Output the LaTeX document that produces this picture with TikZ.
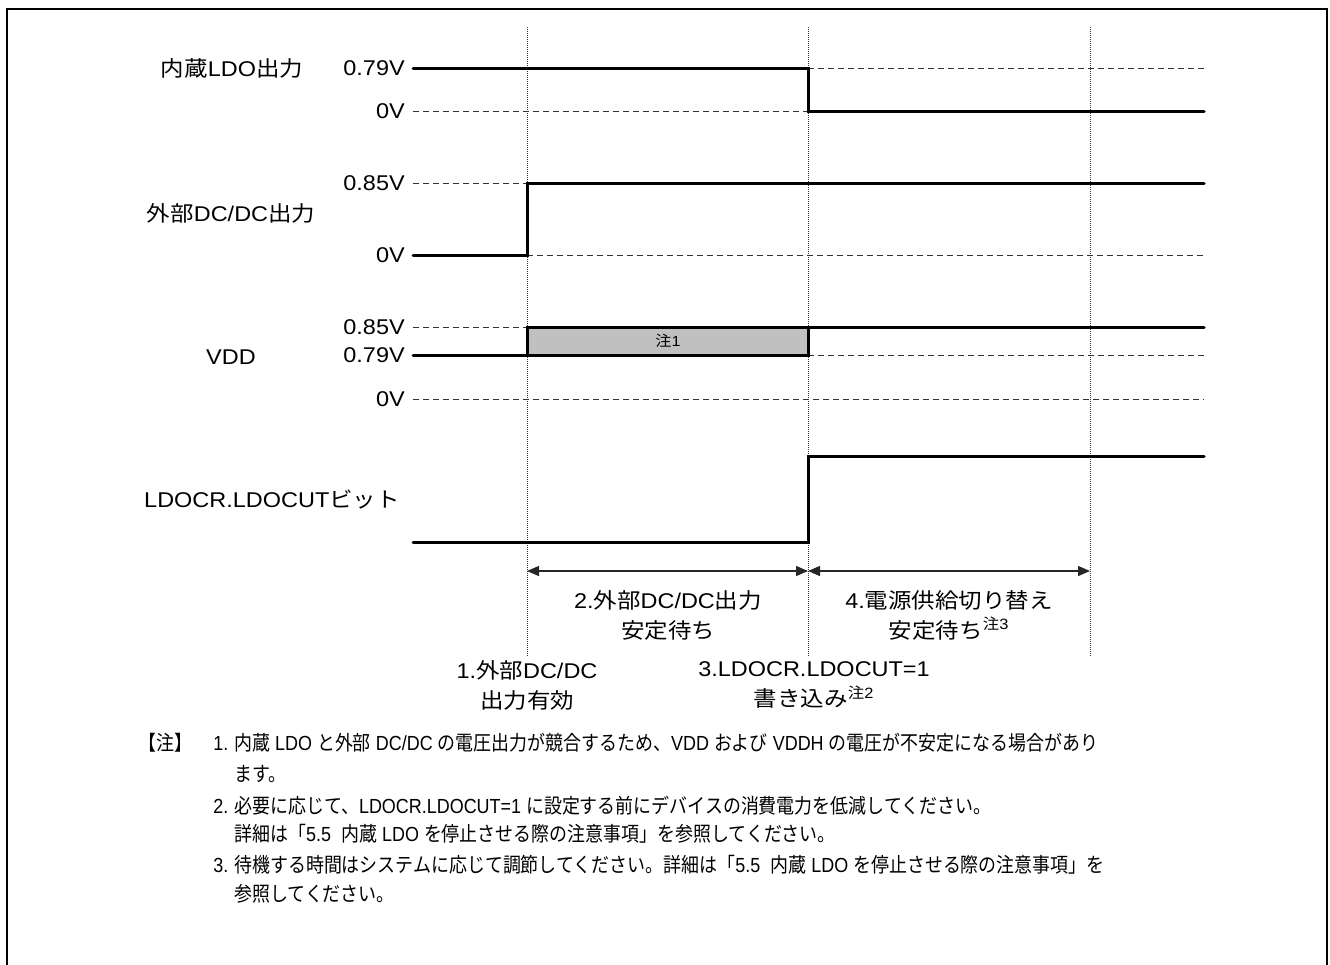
\documentclass[tikz,border=0pt]{standalone}
\usepackage{fontspec}
\usetikzlibrary{arrows.meta}
\setmainfont{Liberation Sans}[FakeStretch=1.1]
\newfontfamily\jpfont{Noto Sans CJK JP}[FakeStretch=1.1]
\newfontfamily\notelat{Liberation Sans}[FakeStretch=0.88]
\newfontfamily\notejp{Noto Sans CJK JP}[FakeStretch=0.88]
\XeTeXinterchartokenstate=1
\newXeTeXintercharclass\jpclass
\newcount\jpc
\jpc="3000 \loop\ifnum\jpc<"3100 \XeTeXcharclass\jpc=\jpclass \advance\jpc by 1 \repeat
\jpc="4E00 \loop\ifnum\jpc<"A000 \XeTeXcharclass\jpc=\jpclass \advance\jpc by 1 \repeat
\jpc="FF00 \loop\ifnum\jpc<"FFF0 \XeTeXcharclass\jpc=\jpclass \advance\jpc by 1 \repeat
\newcommand\jpsel{\jpfont}
\newcommand\latsel{\rmfamily}
\XeTeXinterchartoks 0 \jpclass = {\jpsel}
\XeTeXinterchartoks 4095 \jpclass = {\jpsel}
\XeTeXinterchartoks \jpclass 0 = {\latsel}
\XeTeXinterchartoks \jpclass 4095 = {\latsel}
\newcommand\notefonts{\renewcommand\jpsel{\notejp}\renewcommand\latsel{\notelat}\notelat}
\begin{document}
\begin{tikzpicture}[x=0.75pt,y=-0.75pt,
  sig/.style={line width=2.25pt,line cap=round,line join=miter},
  ref/.style={line width=0.75pt,dash pattern=on 4.5pt off 3pt,black!80},
  guide/.style={line width=0.6pt,dash pattern=on 0.75pt off 0.75pt,black!80},
  dimarrow/.style={line width=1pt,black!85,{Triangle[length=9pt,width=7.5pt]}-{Triangle[length=9pt,width=7.5pt]}},
  lab/.style={inner sep=0pt,font=\fontsize{16pt}{22.5pt}\selectfont},
  note/.style={inner sep=0pt,anchor=west,text height=1.6ex,text depth=.3ex,font=\notefonts\fontsize{15.3pt}{17pt}\selectfont},
  ann/.style={inner sep=0pt,align=center,font=\fontsize{16pt}{22.5pt}\selectfont}]
\useasboundingbox (0,0) rectangle (1330,964);
% frame
\draw[line width=1.8pt] (7,980) -- (7,9) -- (1327,9) -- (1327,980);
% guide lines
\draw[guide] (527,27) -- (527,657);
\draw[guide] (808,27) -- (808,657);
\draw[guide] (1090,27) -- (1090,657);
% signal names
\node[lab] (n1) at (232,68) {内蔵LDO出力};
\node[lab] (n2) at (231,213) {外部DC/DC出力};
\node[lab] (n3) at (231,357) {VDD};
\node[lab] (n4) at (272,500) {LDOCR.LDOCUTビット};
% level labels
\node[lab,anchor=east] (l1) at (405,68) {0.79V};
\node[lab,anchor=east] (l2) at (405,111) {0V};
\node[lab,anchor=east] (l3) at (405,183) {0.85V};
\node[lab,anchor=east] (l4) at (405,255) {0V};
\node[lab,anchor=east] (l5) at (405,327) {0.85V};
\node[lab,anchor=east] (l6) at (405,355) {0.79V};
\node[lab,anchor=east] (l7) at (405,399) {0V};
% reference dashed lines
\draw[ref] (808,68) -- (1204,68);
\draw[ref] (413,111) -- (808,111);
\draw[ref] (413,183) -- (527,183);
\draw[ref] (527,255) -- (1204,255);
\draw[ref] (413,327) -- (527,327);
\draw[ref] (808,355) -- (1204,355);
\draw[ref] (413,399) -- (1204,399);
% signals
\draw[sig] (413,68) -- (808,68) -- (808,111) -- (1204,111);
\draw[sig] (413,255) -- (527,255) -- (527,183) -- (1204,183);
\draw[sig,fill={rgb,255:red,192;green,192;blue,192}] (527,327) rectangle (808,355);
\node[inner sep=0pt,font=\fontsize{11pt}{12pt}\selectfont] (b1) at (668,341) {注1};
\draw[sig] (413,355) -- (527,355);
\draw[sig] (808,327) -- (1204,327);
\draw[sig] (413,542) -- (808,542) -- (808,456) -- (1204,456);
% dimension arrows
\coordinate (a1) at (527,571);
\coordinate (a2) at (808,571);
\coordinate (a3) at (1090,571);
\draw[dimarrow] (a1) -- (a2);
\draw[dimarrow] (a2) -- (a3);
% annotations
\node[ann] (t2) at (668,615) {2.外部DC/DC出力\\安定待ち};
\node[ann] (t4) at (949,615) {4.電源供給切り替え\\安定待ち\textsuperscript{注3}};
\node[ann] (t1) at (527,685) {1.外部DC/DC\\出力有効};
\node[ann] (t3) at (814,685) {3.LDOCR.LDOCUT=1\\書き込み\textsuperscript{注2}};
% notes
\node[note] (m0) at (138,746) {【注】};
\node[note] (m1) at (213,746) {1.};
\node[note] (m1a) at (234,746) {内蔵 LDO と外部 DC/DC の電圧出力が競合するため、VDD および VDDH の電圧が不安定になる場合があり};
\node[note] (m1b) at (234,777) {ます。};
\node[note] (m2) at (213,809) {2.};
\node[note] (m2a) at (234,809) {必要に応じて、LDOCR.LDOCUT=1 に設定する前にデバイスの消費電力を低減してください。};
\node[note] (m2b) at (234,837) {詳細は「5.5\enspace 内蔵 LDO を停止させる際の注意事項」を参照してください。};
\node[note] (m3) at (213,868) {3.};
\node[note] (m3a) at (234,868) {待機する時間はシステムに応じて調節してください。詳細は「5.5\enspace 内蔵 LDO を停止させる際の注意事項」を};
\node[note] (m3b) at (234,897) {参照してください。};
\end{tikzpicture}
\end{document}
